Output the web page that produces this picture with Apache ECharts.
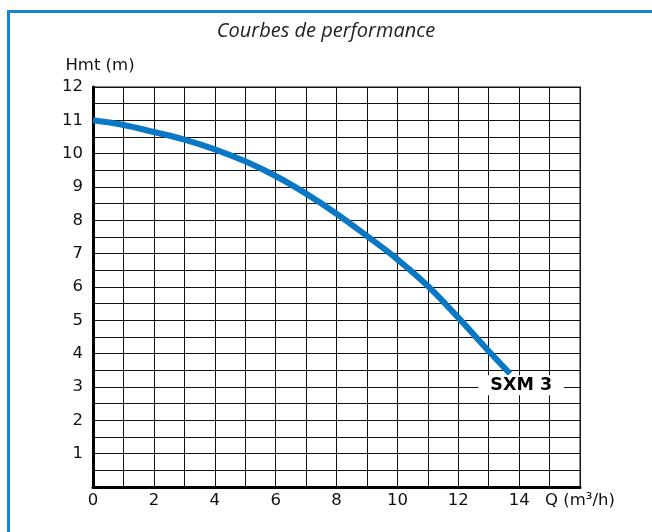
<!DOCTYPE html>
<html>
<head>
<meta charset="utf-8">
<script src="https://cdn.jsdelivr.net/npm/echarts@6/dist/echarts.min.js"></script>
<style>
    html, body { margin: 0; padding: 0; background: #ffffff; }
    #frame {
        position: absolute; left: 7px; top: 10px; width: 660px; height: 540px;
        border-top: 3px solid #1a84cf; border-left: 3px solid #1a84cf;
    }
    #chart { position: absolute; left: 0; top: 0; width: 652px; height: 532px; }
</style>
</head>
<body>
<div id="frame"></div>
<div id="chart"></div>
<script>
// débit Q (m3/h)
const flow = [0, 1, 2, 3, 4, 5, 6, 7, 8, 9, 10, 11, 12, 13, 13.7];
// hauteur manométrique Hmt (m)
const head = [11, 10.86, 10.65, 10.42, 10.13, 9.77, 9.33, 8.8, 8.2, 7.53, 6.83, 6.03, 5.08, 4.08, 3.4];
const pumpName = 'SXM 3';

const labelFont = 'DejaVu Sans';

const eChart = echarts.init(document.getElementById('chart'));
const option = {
    animation: false,
    title: {
        text: 'Courbes de performance',
        left: 'center',
        top: 16,
        textStyle: {
            fontFamily: 'Open Sans',
            fontStyle: 'italic',
            fontWeight: 'normal',
            fontSize: 20,
            color: '#222222'
        }
    },
    grid: {
        left: 93,
        top: 87,
        right: 72,
        bottom: 45,
        show: true,
        borderColor: '#888888',
        borderWidth: 2
    },
    xAxis: {
        type: 'value',
        min: 0,
        max: 16,
        interval: 1,
        axisLine: { lineStyle: { color: '#000000', width: 3 } },
        axisTick: { show: false },
        splitLine: { lineStyle: { color: '#111111', width: 1 } },
        axisLabel: {
            margin: 5,
            fontFamily: labelFont,
            fontSize: 16.5,
            color: '#111111',
            formatter: function(v) {
                if (v === 16) return 'Q (m³/h)';
                return v % 2 === 0 ? String(v) : '';
            }
        }
    },
    yAxis: {
        type: 'value',
        min: 0,
        max: 12,
        interval: 0.5,
        name: 'Hmt (m)',
        nameLocation: 'end',
        nameGap: 13,
        nameTextStyle: {
            fontFamily: labelFont,
            fontSize: 16.5,
            color: '#111111',
            padding: [0, 0, 0, 14]
        },
        axisLine: { show: true, lineStyle: { color: '#000000', width: 3 } },
        axisTick: { show: false },
        splitLine: { lineStyle: { color: '#111111', width: 1 } },
        axisLabel: {
            margin: 10,
            fontFamily: labelFont,
            fontSize: 16.5,
            color: '#111111',
            formatter: function(v) {
                return v > 0 && Number.isInteger(v) ? String(v) : '';
            }
        }
    },
    series: [
        {
            type: 'line',
            data: flow.map((q, i) => [q, head[i]]),
            smooth: 0.4,
            showSymbol: false,
            lineStyle: { color: '#0a78c4', width: 6, cap: 'butt' },
            markPoint: {
                symbolSize: 0,
                data: [
                    {
                        coord: [14.07, 3.05],
                        label: {
                            show: true,
                            position: 'inside',
                            formatter: pumpName,
                            fontFamily: labelFont,
                            fontWeight: 'bold',
                            fontSize: 17.5,
                            lineHeight: 20,
                            color: '#000000',
                            backgroundColor: '#ffffff',
                            padding: [0, 12]
                        }
                    }
                ]
            }
        }
    ]
};
eChart.setOption(option);
</script>
</body>
</html>
